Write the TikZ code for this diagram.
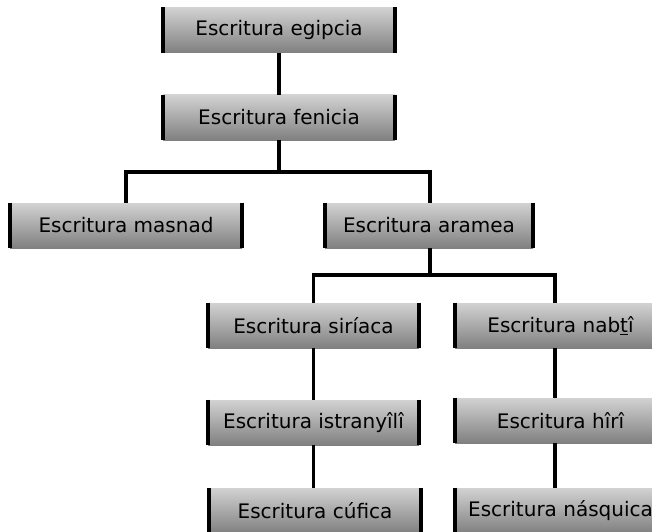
\documentclass[tikz,border=0pt]{standalone}
\usepackage{fontspec}
\setmainfont{DejaVu Sans}
\begin{document}
\begin{tikzpicture}[x=0.75pt,y=-0.75pt,
  box/.style={rectangle, inner sep=0pt, top color=boxtop, bottom color=boxbot,
    draw=none, font=\fontsize{15}{18}\selectfont},
  wbox/.style={box, minimum width=174pt, minimum height=33.75pt},
  mbox/.style={box, minimum width=158.25pt, minimum height=33.75pt},
  bar/.style={line width=3pt, black},
  conn/.style={line width=2.3pt, black}]
\definecolor{boxtop}{HTML}{D2D2D2}
\definecolor{boxbot}{HTML}{808080}
\useasboundingbox (0,0) rectangle (652,531);
\clip (0,0) rectangle (652,531);
% nodes
\node[wbox] (egi) at (279,30) {Escritura egipcia};
\node[wbox] (fen) at (279,117.5) {Escritura fenicia};
\node[wbox] (mas) at (126,225.5) {Escritura masnad};
\node[box, minimum width=156pt, minimum height=33.75pt] (ara) at (429,225.5) {Escritura aramea};
\node[mbox] (sir) at (313.5,325.5) {Escritura siríaca};
\node[mbox] (ist) at (313.5,422.5) {Escritura istranyîlî};
\node[mbox] (cuf) at (315,510.5) {Escritura cúfica};
\node[mbox] (nab) at (560.5,325.5) {Escritura nab\underline{t}î};
\node[mbox] (hir) at (560.5,420.5) {Escritura hîrî};
\node[mbox] (nas) at (560.5,510.5) {Escritura násquica};
% side bars
\foreach \n in {egi,fen,mas,ara,sir,ist,cuf,nab,hir,nas}{
  \draw[bar] (\n.north west) -- (\n.south west);
  \draw[bar] (\n.north east) -- (\n.south east);
}
% connectors
\coordinate (j1) at (279,172);
\coordinate (j2) at (430,275);
\coordinate (j3) at (555,275);
\draw[conn] (egi.south) -- (fen.north);
\draw[conn] (fen.south) -- (j1);
\draw[conn] (mas.north) |- (j1) -| (ara.north -| j2);
\draw[conn] (ara.south -| j2) -- (j2);
\draw[conn] (sir.north) |- (j2) -- (j3) -- (j3 |- nab.north);
\draw[conn] (sir.south) -- (ist.north);
\draw[conn] (ist.south) -- (ist.south |- cuf.north);
\draw[conn] (nab.south -| j3) -- (hir.north -| j3);
\draw[conn] (hir.south -| j3) -- (nas.north -| j3);
\end{tikzpicture}
\end{document}
